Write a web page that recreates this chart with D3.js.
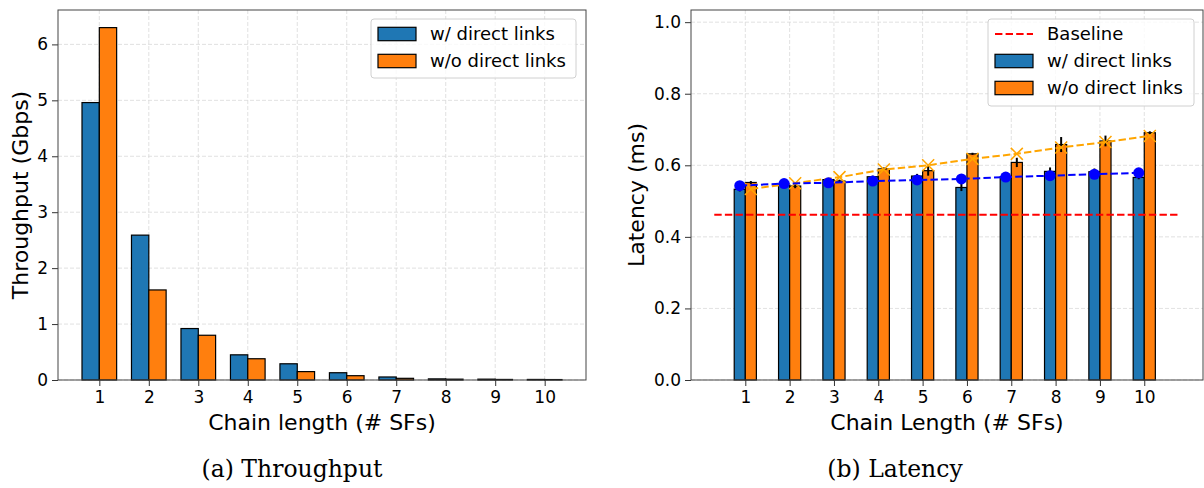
<!DOCTYPE html>
<html>
<head>
<meta charset="utf-8">
<script src="https://cdn.jsdelivr.net/npm/d3@7"></script>
<style>
  body { margin: 0; background: #fff; }
  text { font-family: "DejaVu Sans", sans-serif; fill: #000; }
  .caption { font-family: "DejaVu Serif", serif; }
</style>
</head>
<body>
<svg id="chart" width="1204" height="488"></svg>
<script>
// chain lengths (# SFs)
var chain = [1, 2, 3, 4, 5, 6, 7, 8, 9, 10];

// (a) throughput, Gbps
var tputWith    = [4.96, 2.59, 0.92, 0.45, 0.29, 0.13, 0.054, 0.02, 0.015, 0.01];
var tputWithout = [6.30, 1.61, 0.80, 0.38, 0.15, 0.077, 0.03, 0.015, 0.01, 0.008];

// (b) latency, ms
var latWith    = [0.533, 0.546, 0.560, 0.568, 0.570, 0.538, 0.568, 0.583, 0.582, 0.566];
var latWithout = [0.552, 0.542, 0.556, 0.590, 0.585, 0.632, 0.608, 0.658, 0.668, 0.691];
var errWith    = [0.006, 0.005, 0.004, 0.003, 0.006, 0.010, 0.004, 0.011, 0.009, 0.005];
var errWithout = [0.004, 0.006, 0.004, 0.004, 0.014, 0.003, 0.013, 0.021, 0.015, 0.004];
var fitWith    = [0.543, 0.549, 0.551, 0.556, 0.559, 0.562, 0.567, 0.571, 0.575, 0.579];
var fitWithout = [0.534, 0.550, 0.567, 0.588, 0.600, 0.618, 0.632, 0.650, 0.665, 0.682];
var baseline = 0.462;

var tputTicks = [0, 1, 2, 3, 4, 5, 6];
var latTicks = [0, 0.2, 0.4, 0.6, 0.8, 1.0];
var seriesNames = ["w/ direct links", "w/o direct links"];

var blue = "#1f77b4", orange = "#ff7f0e";

var svg = d3.select("#chart");
svg.append("rect").attr("width", 1204).attr("height", 488).attr("fill", "#fff");

// axes frame helper: grid, spines, ticks, labels
function drawFrame(g, x, y, yTicks, yFmt, xLabel, yLabel, yLabelX) {
    var x0 = x.range()[0], x1 = x.range()[1];
    var y0 = y.range()[0], y1 = y.range()[1];

    var grid = g.append("g").attr("class", "grid");
    grid.selectAll("line.gx")
        .data(chain)
        .enter().append("line")
        .attr("x1", function(d) { return x(d); })
        .attr("x2", function(d) { return x(d); })
        .attr("y1", y0).attr("y2", y1);
    grid.selectAll("line.gy")
        .data(yTicks)
        .enter().append("line")
        .attr("x1", x0).attr("x2", x1)
        .attr("y1", function(d) { return y(d); })
        .attr("y2", function(d) { return y(d); });
    grid.selectAll("line")
        .attr("stroke", "#d9d9d9")
        .attr("stroke-width", 0.8)
        .attr("stroke-dasharray", "4,2");

    var xAxis = d3.axisBottom(x).tickValues(chain).tickFormat(d3.format("d"))
        .tickSize(6).tickPadding(5);
    var yAxis = d3.axisLeft(y).tickValues(yTicks).tickFormat(yFmt)
        .tickSize(6).tickPadding(4);

    return function() {
        var ax = g.append("g").attr("transform", "translate(0," + y0 + ")").call(xAxis);
        var ay = g.append("g").attr("transform", "translate(" + x0 + ",0)").call(yAxis);
        [ax, ay].forEach(function(a) {
            a.select(".domain").remove();
            a.selectAll(".tick line").attr("stroke", "#333").attr("stroke-width", 1);
            a.selectAll(".tick text").style("font-size", "17px").attr("fill", "#000");
        });
        g.append("rect")
            .attr("x", x0).attr("y", y1)
            .attr("width", x1 - x0).attr("height", y0 - y1)
            .attr("fill", "none")
            .attr("stroke", "#444")
            .attr("stroke-width", 1);
        g.append("text")
            .attr("x", (x0 + x1) / 2).attr("y", 430)
            .attr("text-anchor", "middle")
            .style("font-size", "22px")
            .text(xLabel);
        g.append("text")
            .attr("transform", "translate(" + yLabelX + "," + ((y0 + y1) / 2) + ") rotate(-90)")
            .attr("text-anchor", "middle")
            .attr("dy", "0.35em")
            .style("font-size", "22px")
            .text(yLabel);
    };
}

function drawLegend(g, bx, by, bw, bh, items) {
    g.append("rect")
        .attr("x", bx).attr("y", by)
        .attr("width", bw).attr("height", bh)
        .attr("rx", 3)
        .attr("fill", "#fff").attr("fill-opacity", 0.8)
        .attr("stroke", "#d0d0d0");
    items.forEach(function(it, i) {
        var cy = by + 15 + i * 27;
        if (it.type === "line") {
            g.append("line")
                .attr("x1", bx + 7).attr("x2", bx + 45)
                .attr("y1", cy).attr("y2", cy)
                .attr("stroke", it.color).attr("stroke-width", 2)
                .attr("stroke-dasharray", "7.4,3.2");
        } else {
            g.append("rect")
                .attr("x", bx + 7).attr("y", cy - 6.7)
                .attr("width", 38).attr("height", 13.4)
                .attr("fill", it.color)
                .attr("stroke", "#000").attr("stroke-width", 1.2);
        }
        g.append("text")
            .attr("x", bx + 59).attr("y", cy)
            .attr("dy", "0.36em")
            .style("font-size", "18px")
            .text(it.label);
    });
}

// ---------- (a) Throughput ----------
var gA = svg.append("g");
var xA = d3.scaleLinear().domain([0.165, 10.835]).range([58, 586]);
var yA = d3.scaleLinear().domain([0, 6.615]).range([380, 10]);
var finishA = drawFrame(gA, xA, yA, tputTicks, d3.format("d"),
    "Chain length (# SFs)", "Throughput (Gbps)", 20);

var bwA = 0.35;
[tputWith, tputWithout].forEach(function(vals, s) {
    gA.selectAll("rect.bar" + s)
        .data(vals)
        .enter().append("rect")
        .attr("class", "bar" + s)
        .attr("x", function(d, i) { return xA(chain[i] - bwA + s * bwA); })
        .attr("width", xA(bwA) - xA(0))
        .attr("y", function(d) { return yA(d); })
        .attr("height", function(d) { return yA(0) - yA(d); })
        .attr("fill", s === 0 ? blue : orange)
        .attr("stroke", "#000")
        .attr("stroke-width", 1.2);
});
finishA();
drawLegend(gA, 371, 19, 205, 59, [
    {type: "bar", color: blue, label: seriesNames[0]},
    {type: "bar", color: orange, label: seriesNames[1]}
]);

// ---------- (b) Latency ----------
var gB = svg.append("g");
var xB = d3.scaleLinear().domain([-0.225, 11.325]).range([691, 1203]);
var yB = d3.scaleLinear().domain([0, 1.034]).range([380, 10]);
var finishB = drawFrame(gB, xB, yB, latTicks, d3.format(".1f"),
    "Chain Length (# SFs)", "Latency (ms)", 636);

var bwB = 0.25;
[latWith, latWithout].forEach(function(vals, s) {
    gB.selectAll("rect.bar" + s)
        .data(vals)
        .enter().append("rect")
        .attr("class", "bar" + s)
        .attr("x", function(d, i) { return xB(chain[i] - bwB + s * bwB); })
        .attr("width", xB(bwB) - xB(0))
        .attr("y", function(d) { return yB(d); })
        .attr("height", function(d) { return yB(0) - yB(d); })
        .attr("fill", s === 0 ? blue : orange)
        .attr("stroke", "#000")
        .attr("stroke-width", 1.2);
});

// error bars
[[latWith, errWith, -1], [latWithout, errWithout, 1]].forEach(function(set) {
    gB.selectAll(null)
        .data(set[0])
        .enter().append("line")
        .attr("x1", function(d, i) { return xB(chain[i] + set[2] * bwB / 2); })
        .attr("x2", function(d, i) { return xB(chain[i] + set[2] * bwB / 2); })
        .attr("y1", function(d, i) { return yB(d - set[1][i]); })
        .attr("y2", function(d, i) { return yB(d + set[1][i]); })
        .attr("stroke", "#000")
        .attr("stroke-width", 2);
});

// baseline
gB.append("line")
    .attr("x1", xB(0.3)).attr("x2", xB(10.8))
    .attr("y1", yB(baseline)).attr("y2", yB(baseline))
    .attr("stroke", "red").attr("stroke-width", 2)
    .attr("stroke-dasharray", "7.4,3.2");

// trend lines
var lineWith = d3.line()
    .x(function(d, i) { return xB(chain[i] - bwB / 2); })
    .y(function(d) { return yB(d); });
var lineWithout = d3.line()
    .x(function(d, i) { return xB(chain[i] + bwB / 2); })
    .y(function(d) { return yB(d); });

gB.append("path")
    .datum(fitWithout)
    .attr("d", lineWithout)
    .attr("fill", "none").attr("stroke", "orange").attr("stroke-width", 2)
    .attr("stroke-dasharray", "7.4,3.2");
gB.selectAll("path.xmark")
    .data(fitWithout)
    .enter().append("path")
    .attr("class", "xmark")
    .attr("transform", function(d, i) { return "translate(" + xB(chain[i] + bwB / 2) + "," + yB(d) + ")"; })
    .attr("d", "M-6,-6L6,6M-6,6L6,-6")
    .attr("stroke", "orange").attr("stroke-width", 1.5);

gB.append("path")
    .datum(fitWith)
    .attr("d", lineWith)
    .attr("fill", "none").attr("stroke", "blue").attr("stroke-width", 2)
    .attr("stroke-dasharray", "7.4,3.2");
gB.selectAll("circle.dot")
    .data(fitWith)
    .enter().append("circle")
    .attr("class", "dot")
    .attr("cx", function(d, i) { return xB(chain[i] - bwB / 2); })
    .attr("cy", function(d) { return yB(d); })
    .attr("r", 5.5)
    .attr("fill", "blue");

finishB();
drawLegend(gB, 988, 19, 206, 87, [
    {type: "line", color: "red", label: "Baseline"},
    {type: "bar", color: blue, label: seriesNames[0]},
    {type: "bar", color: orange, label: seriesNames[1]}
]);

// captions
svg.append("text").attr("class", "caption")
    .attr("x", 292).attr("y", 477)
    .attr("text-anchor", "middle")
    .style("font-size", "23.5px")
    .text("(a) Throughput");
svg.append("text").attr("class", "caption")
    .attr("x", 895).attr("y", 477)
    .attr("text-anchor", "middle")
    .style("font-size", "23.5px")
    .text("(b) Latency");
</script>
</body>
</html>
